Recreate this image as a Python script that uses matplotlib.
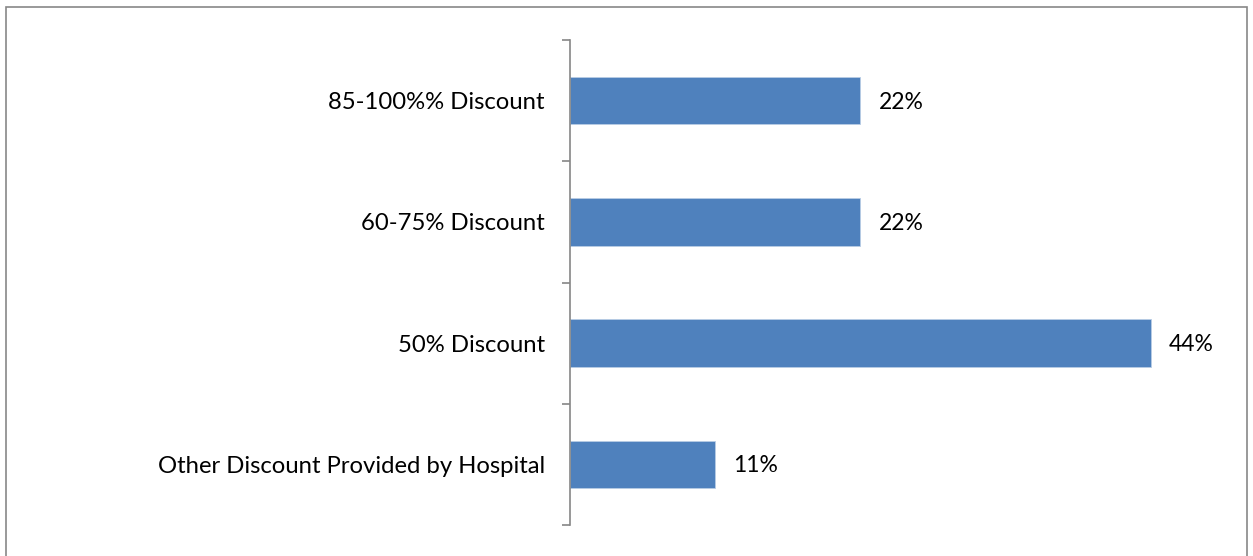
import matplotlib.pyplot as plt
from matplotlib.patches import Rectangle

# Discount levels, bottom to top
categories = [
    "Other Discount Provided by Hospital",
    "50% Discount",
    "60-75% Discount",
    "85-100%% Discount",
]
shares = [11, 44, 22, 22]

plt.rcParams["font.family"] = ["Lato", "DejaVu Sans"]

fig = plt.figure(figsize=(12.53, 5.56), dpi=100)
ax = fig.add_axes([570 / 1253, 31 / 556, 660 / 1253, 485 / 556])

pos = list(range(len(categories)))
ax.barh(pos, shares, height=0.39, color="#4F81BD", edgecolor="#B9CDE5", linewidth=0.6)

for y, v in zip(pos, shares):
    ax.annotate(f"{v}%", (v, y), xytext=(13, -1), textcoords="offset points",
                va="center", ha="left", fontsize=16.5)

ax.set_xlim(0, 50)
ax.set_ylim(-0.5, len(categories) - 0.5)
ax.set_yticks(pos)
ax.set_yticklabels(categories, fontsize=17.2)
ax.set_yticks([p - 0.5 for p in pos] + [len(categories) - 0.5], minor=True)
ax.tick_params(axis="y", which="major", length=0, pad=18)
ax.tick_params(axis="y", which="minor", length=6, width=1.2, color="#868686")
ax.set_xticks([])

for side in ("top", "right", "bottom"):
    ax.spines[side].set_visible(False)
ax.spines["left"].set_color("#868686")
ax.spines["left"].set_linewidth(1.2)

# outer chart frame
fig.patches.append(Rectangle((6 / 1253, -0.05), 1241 / 1253, 1.05 - 7 / 556,
                             transform=fig.transFigure, fill=False,
                             edgecolor="#878787", linewidth=1.2))

fig.savefig("out.png", dpi=100)
